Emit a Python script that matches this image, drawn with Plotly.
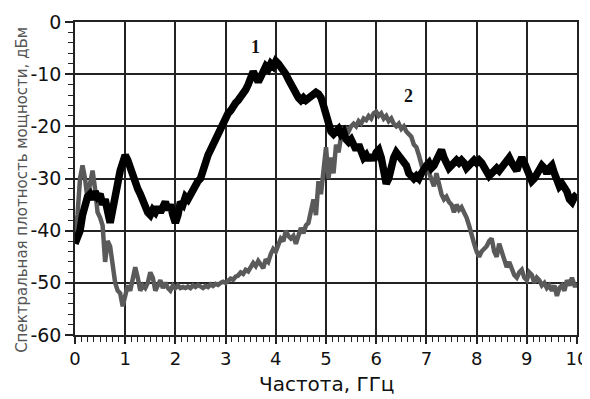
import plotly.graph_objects as go

# Frequency grid (GHz)
freq = [round(i * 0.05, 2) for i in range(201)]

# Curve 1 (black), dBm
curve1 = [
    -42.5, -41.5, -40, -37, -35, -33.5, -33, -34, -32.5, -33.5,
    -33, -35, -34, -37, -38.5, -36, -33, -30, -28.5, -27,
    -25.5, -26.5, -28, -30, -30.5, -32, -33, -34.5, -36, -36.5,
    -37, -36, -36.5, -35.5, -36.5, -35, -34.5, -36, -35, -37,
    -38.5, -37, -34.5, -35, -33.5, -34, -33, -32.5, -31.5, -30.5,
    -30, -28, -27.5, -25.5, -24.5, -23.5, -22, -21, -20, -19.5,
    -18.5, -17.5, -17, -16, -15.5, -15, -14.5, -14, -13, -12,
    -10.5, -9.5, -10.5, -11.5, -10.5, -9.5, -8.5, -9, -8, -8.5,
    -7.5, -8, -8.5, -9, -10, -11, -12, -13, -14, -14.5,
    -15, -14.5, -15, -14.5, -14, -13.5, -13.5, -13.8, -14.5, -16,
    -18, -20, -21, -21.5, -21, -20.5, -21.5, -21, -22.5, -23,
    -22.5, -24, -24.5, -23.5, -25, -26, -25.5, -26.5, -25.5, -26.5,
    -25, -24.5, -26, -28, -31, -30, -27, -26, -25, -25.5,
    -26.5, -27, -27.5, -29, -29.5, -30, -29.5, -30, -29, -28,
    -27.5, -27, -28, -27.5, -26.5, -25, -24.5, -26, -27, -28,
    -27.5, -27, -26.5, -27, -26.5, -27, -28, -27.5, -27, -26.5,
    -27, -26.5, -27, -28, -28.5, -29.5, -29, -28.5, -28, -28.5,
    -28, -27.5, -26.5, -26, -27, -27.5, -28.5, -27, -26, -27,
    -28, -29, -30.5, -30, -29, -28.5, -27.5, -28, -29, -28,
    -27.5, -29, -30.5, -31.5, -31, -31.5, -32.5, -34, -34.5, -33.5,
    -33,
]

# Curve 2 (grey), dBm
curve2 = [
    -41, -37, -30, -27.5, -30, -34, -31, -28.5, -32, -36.5,
    -37.5, -39, -46, -42, -43, -46, -50, -51.5, -52, -54.5,
    -52, -50.5, -51.5, -49, -47, -49, -51.5, -50.5, -51, -50,
    -48, -49, -51.5, -50.5, -49.5, -51, -50, -51, -51.5, -50.5,
    -51, -50.5, -51, -50.8, -51, -50.7, -51, -50.5, -50.8, -50.4,
    -50.6, -51, -50.6, -50.8, -50.3, -50.6, -50.2, -50.4, -50, -49.8,
    -50, -49.5, -49.2, -49.4, -48.8, -48.6, -48, -48.3, -47.5, -47.8,
    -47, -46.2, -46.8, -45.8, -46.5, -47.2, -45.5, -46, -44.5, -43.5,
    -44, -42.5, -41.5, -42, -40, -41, -41.5, -41, -42.5, -41,
    -39.5, -40.5, -39, -38.5, -36, -34, -37, -30.5, -33, -29,
    -24, -30, -26, -29, -23.5, -25, -22, -21.5, -20.5, -21,
    -20, -19.5, -20, -19, -19.5, -18.5, -18.8, -18, -18.5, -17.5,
    -17.2, -18, -17.5, -18.5, -18, -19, -18.5, -19.5, -20, -19.5,
    -20.5, -20, -21, -21.5, -22, -23.5, -24, -25.5, -27.5, -29,
    -27.5, -29, -30.5, -31.5, -29, -31, -33, -34, -33.5, -34.5,
    -35, -36.5, -35, -36, -35.5, -36.5, -37.5, -39, -41, -42.5,
    -44, -45, -44, -43.5, -43, -42, -41.5, -44, -45, -42.5,
    -44, -46, -47, -46, -47.5, -48.5, -49, -48, -47.5, -49,
    -49.5, -48, -48.5, -50, -49, -49.5, -50.5, -50, -51, -50.5,
    -51.5, -50.5, -52.5, -51, -50.5, -51.5, -49.5, -50.5, -49, -50.5,
    -50.5,
]

x_ticks = [0, 1, 2, 3, 4, 5, 6, 7, 8, 9, 10]
y_ticks = [0, -10, -20, -30, -40, -50, -60]

labels_text = ["1", "2"]
labels_x = [3.6, 6.65]
labels_y = [-4.8, -14.2]

fig = go.Figure()
fig.add_trace(go.Scatter(x=freq, y=curve2, mode="lines",
                         line=dict(color="#5a5a5a", width=4.5), showlegend=False))
fig.add_trace(go.Scatter(x=freq, y=curve1, mode="lines",
                         line=dict(color="#000000", width=7.5), showlegend=False))

for t, xx, yy in zip(labels_text, labels_x, labels_y):
    fig.add_annotation(x=xx, y=yy, text="<b>%s</b>" % t, showarrow=False,
                       font=dict(family="Liberation Serif", size=18, color="#111"))

fig.add_annotation(xref="paper", yref="paper", x=-0.106, y=0.463,
                   text="Спектральная плотность мощности, дБм", textangle=-90,
                   showarrow=False, xanchor="center", yanchor="middle",
                   font=dict(family="DejaVu Sans", size=15, color="#555"))

fig.add_annotation(xref="paper", yref="paper", x=0.5, y=-0.157,
                   text="Частота, ГГц", showarrow=False,
                   xanchor="center", yanchor="middle",
                   font=dict(family="DejaVu Sans", size=20, color="#111"))

# page body has an 8px default margin, so the figure is offset by 8px
fig.update_layout(
    width=582, height=391,
    margin=dict(l=67, r=13, t=14, b=64),
    paper_bgcolor="white", plot_bgcolor="white",
    font=dict(family="DejaVu Sans", color="#111"),
)
fig.update_xaxes(
    range=[0, 10], tickvals=x_ticks, ticktext=[str(v) for v in x_ticks],
    tickfont=dict(size=18), showgrid=True, gridcolor="#222", gridwidth=1.5,
    showline=True, linecolor="#222", linewidth=1.5, mirror=True,
    ticks="outside", ticklen=7, tickwidth=1.5, tickcolor="#222",
    minor=dict(dtick=0.125, ticks="outside", ticklen=5, tickwidth=1, tickcolor="#222", showgrid=False),
    zeroline=False, automargin=False,
)
fig.update_yaxes(
    range=[-60, 0], tickvals=y_ticks, ticktext=[str(v) for v in y_ticks],
    tickfont=dict(size=19), showgrid=True, gridcolor="#222", gridwidth=1.5,
    showline=True, linecolor="#222", linewidth=1.5, mirror=True,
    ticks="outside", ticklen=8, tickwidth=1.5, tickcolor="#222",
    minor=dict(dtick=2, ticks="outside", ticklen=5, tickwidth=1, tickcolor="#222", showgrid=False),
    zeroline=False, automargin=False,
)

fig.write_html("out.html")
